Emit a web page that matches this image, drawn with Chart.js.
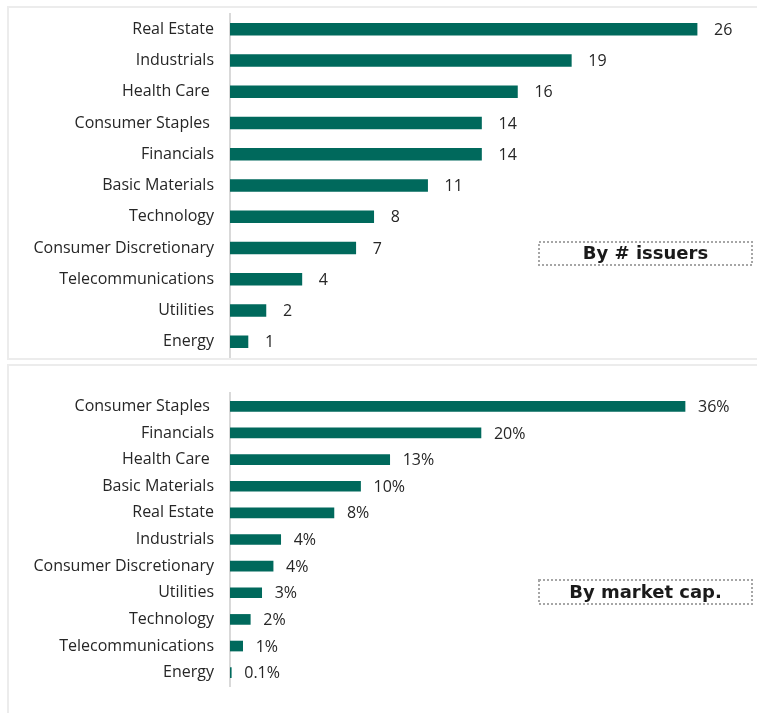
<!DOCTYPE html>
<html>
<head>
<meta charset="utf-8">
<script src="https://cdn.jsdelivr.net/npm/chart.js@4.4.0/dist/chart.umd.min.js"></script>
<style>
  html, body { margin: 0; padding: 0; background: #fff; }
  body { width: 757px; height: 713px; position: relative; overflow: hidden; }
  .panel { position: absolute; border: 2px solid #ececec; box-sizing: border-box; }
  #p1 { left: 7px; top: 6px; width: 760px; height: 354px; }
  #p2 { left: 7px; top: 364px; width: 760px; height: 360px; }
  canvas { position: absolute; left: 0; }
  #c1 { top: -12px; }
  #c2 { top: 360px; }
</style>
</head>
<body>
<div class="panel" id="p1"></div>
<div class="panel" id="p2"></div>
<canvas id="c2" width="757" height="353"></canvas>
<canvas id="c1" width="757" height="395"></canvas>
<script>
// ---- data ----
const issuerCategories = ["Real Estate", "Industrials", "Health Care ", "Consumer Staples ", "Financials", "Basic Materials", "Technology", "Consumer Discretionary", "Telecommunications", "Utilities", "Energy"];
const issuerCounts = [26, 19, 16, 14, 14, 11, 8, 7, 4, 2, 1];
const issuerLabels = ["26", "19", "16", "14", "14", "11", "8", "7", "4", "2", "1"];

const capCategories = ["Consumer Staples ", "Financials", "Health Care ", "Basic Materials", "Real Estate", "Industrials", "Consumer Discretionary", "Utilities", "Technology", "Telecommunications", "Energy"];
const capShares = [35.9, 19.8, 12.6, 10.3, 8.2, 4.0, 3.4, 2.5, 1.6, 1.0, 0.1];
const capLabels = ["36%", "20%", "13%", "10%", "8%", "4%", "4%", "3%", "2%", "1%", "0.1%"];

const titles = ["By # issuers", "By market cap."];

// ---- styling ----
const BAR = '#00695c';
const TXT = '#262626';
const FONT = '"Open Sans", Lato, sans-serif';
const BOLD_FONT = '"DejaVu Sans", "Open Sans", sans-serif';

function valueLabelPlugin(labels, offset) {
  return {
    id: 'valueLabels',
    afterDatasetsDraw(chart) {
      const ctx = chart.ctx;
      const meta = chart.getDatasetMeta(0);
      ctx.save();
      ctx.font = '16px ' + FONT;
      ctx.fillStyle = TXT;
      ctx.textAlign = 'left';
      ctx.textBaseline = 'middle';
      meta.data.forEach((bar, i) => {
        ctx.fillText(labels[i], bar.x + offset, bar.y + 1);
      });
      ctx.restore();
    }
  };
}

function calloutPlugin(text, box) {
  return {
    id: 'callout',
    afterDraw(chart) {
      const ctx = chart.ctx;
      ctx.save();
      ctx.strokeStyle = '#a6a6a6';
      ctx.lineWidth = 2;
      ctx.setLineDash([2, 2]);
      ctx.strokeRect(box.x, box.y, box.w, box.h);
      ctx.setLineDash([]);
      ctx.font = 'bold 18px ' + BOLD_FONT;
      ctx.fillStyle = '#1a1a1a';
      ctx.textAlign = 'center';
      ctx.textBaseline = 'middle';
      ctx.fillText(text, box.x + box.w / 2, box.y + box.h / 2 + 1);
      ctx.restore();
    }
  };
}

function makeChart(id, cats, vals, labels, xmax, pad, thickness, offset, title, box) {
  return new Chart(document.getElementById(id), {
    type: 'bar',
    data: {
      labels: cats,
      datasets: [{ data: vals, backgroundColor: BAR, barThickness: thickness }]
    },
    options: {
      indexAxis: 'y',
      responsive: false,
      animation: false,
      events: [],
      layout: { padding: pad },
      plugins: { legend: { display: false }, tooltip: { enabled: false } },
      scales: {
        x: { display: false, min: 0, max: xmax },
        y: {
          grid: { display: false, drawTicks: false },
          border: { display: true, color: '#d9d9d9', width: 2 },
          ticks: { color: TXT, font: { family: FONT, size: 16 }, padding: 16, autoSkip: false },
          afterFit(scale) { scale.width = 230; }
        }
      }
    },
    plugins: [valueLabelPlugin(labels, offset), calloutPlugin(title, box)]
  });
}

// top chart canvas starts 12px above the page, so its local y = page y + 12
makeChart('c1', issuerCategories, issuerCounts, issuerLabels, 28,
  { top: 25, bottom: 25, left: 0, right: 24 }, 12, 17, titles[0],
  { x: 539, y: 254, w: 213, h: 23 });

makeChart('c2', capCategories, capShares, capLabels, 40,
  { top: 33, bottom: 27, left: 0, right: 20 }, 10, 13, titles[1],
  { x: 539, y: 220, w: 213, h: 24 });
</script>
</body>
</html>
